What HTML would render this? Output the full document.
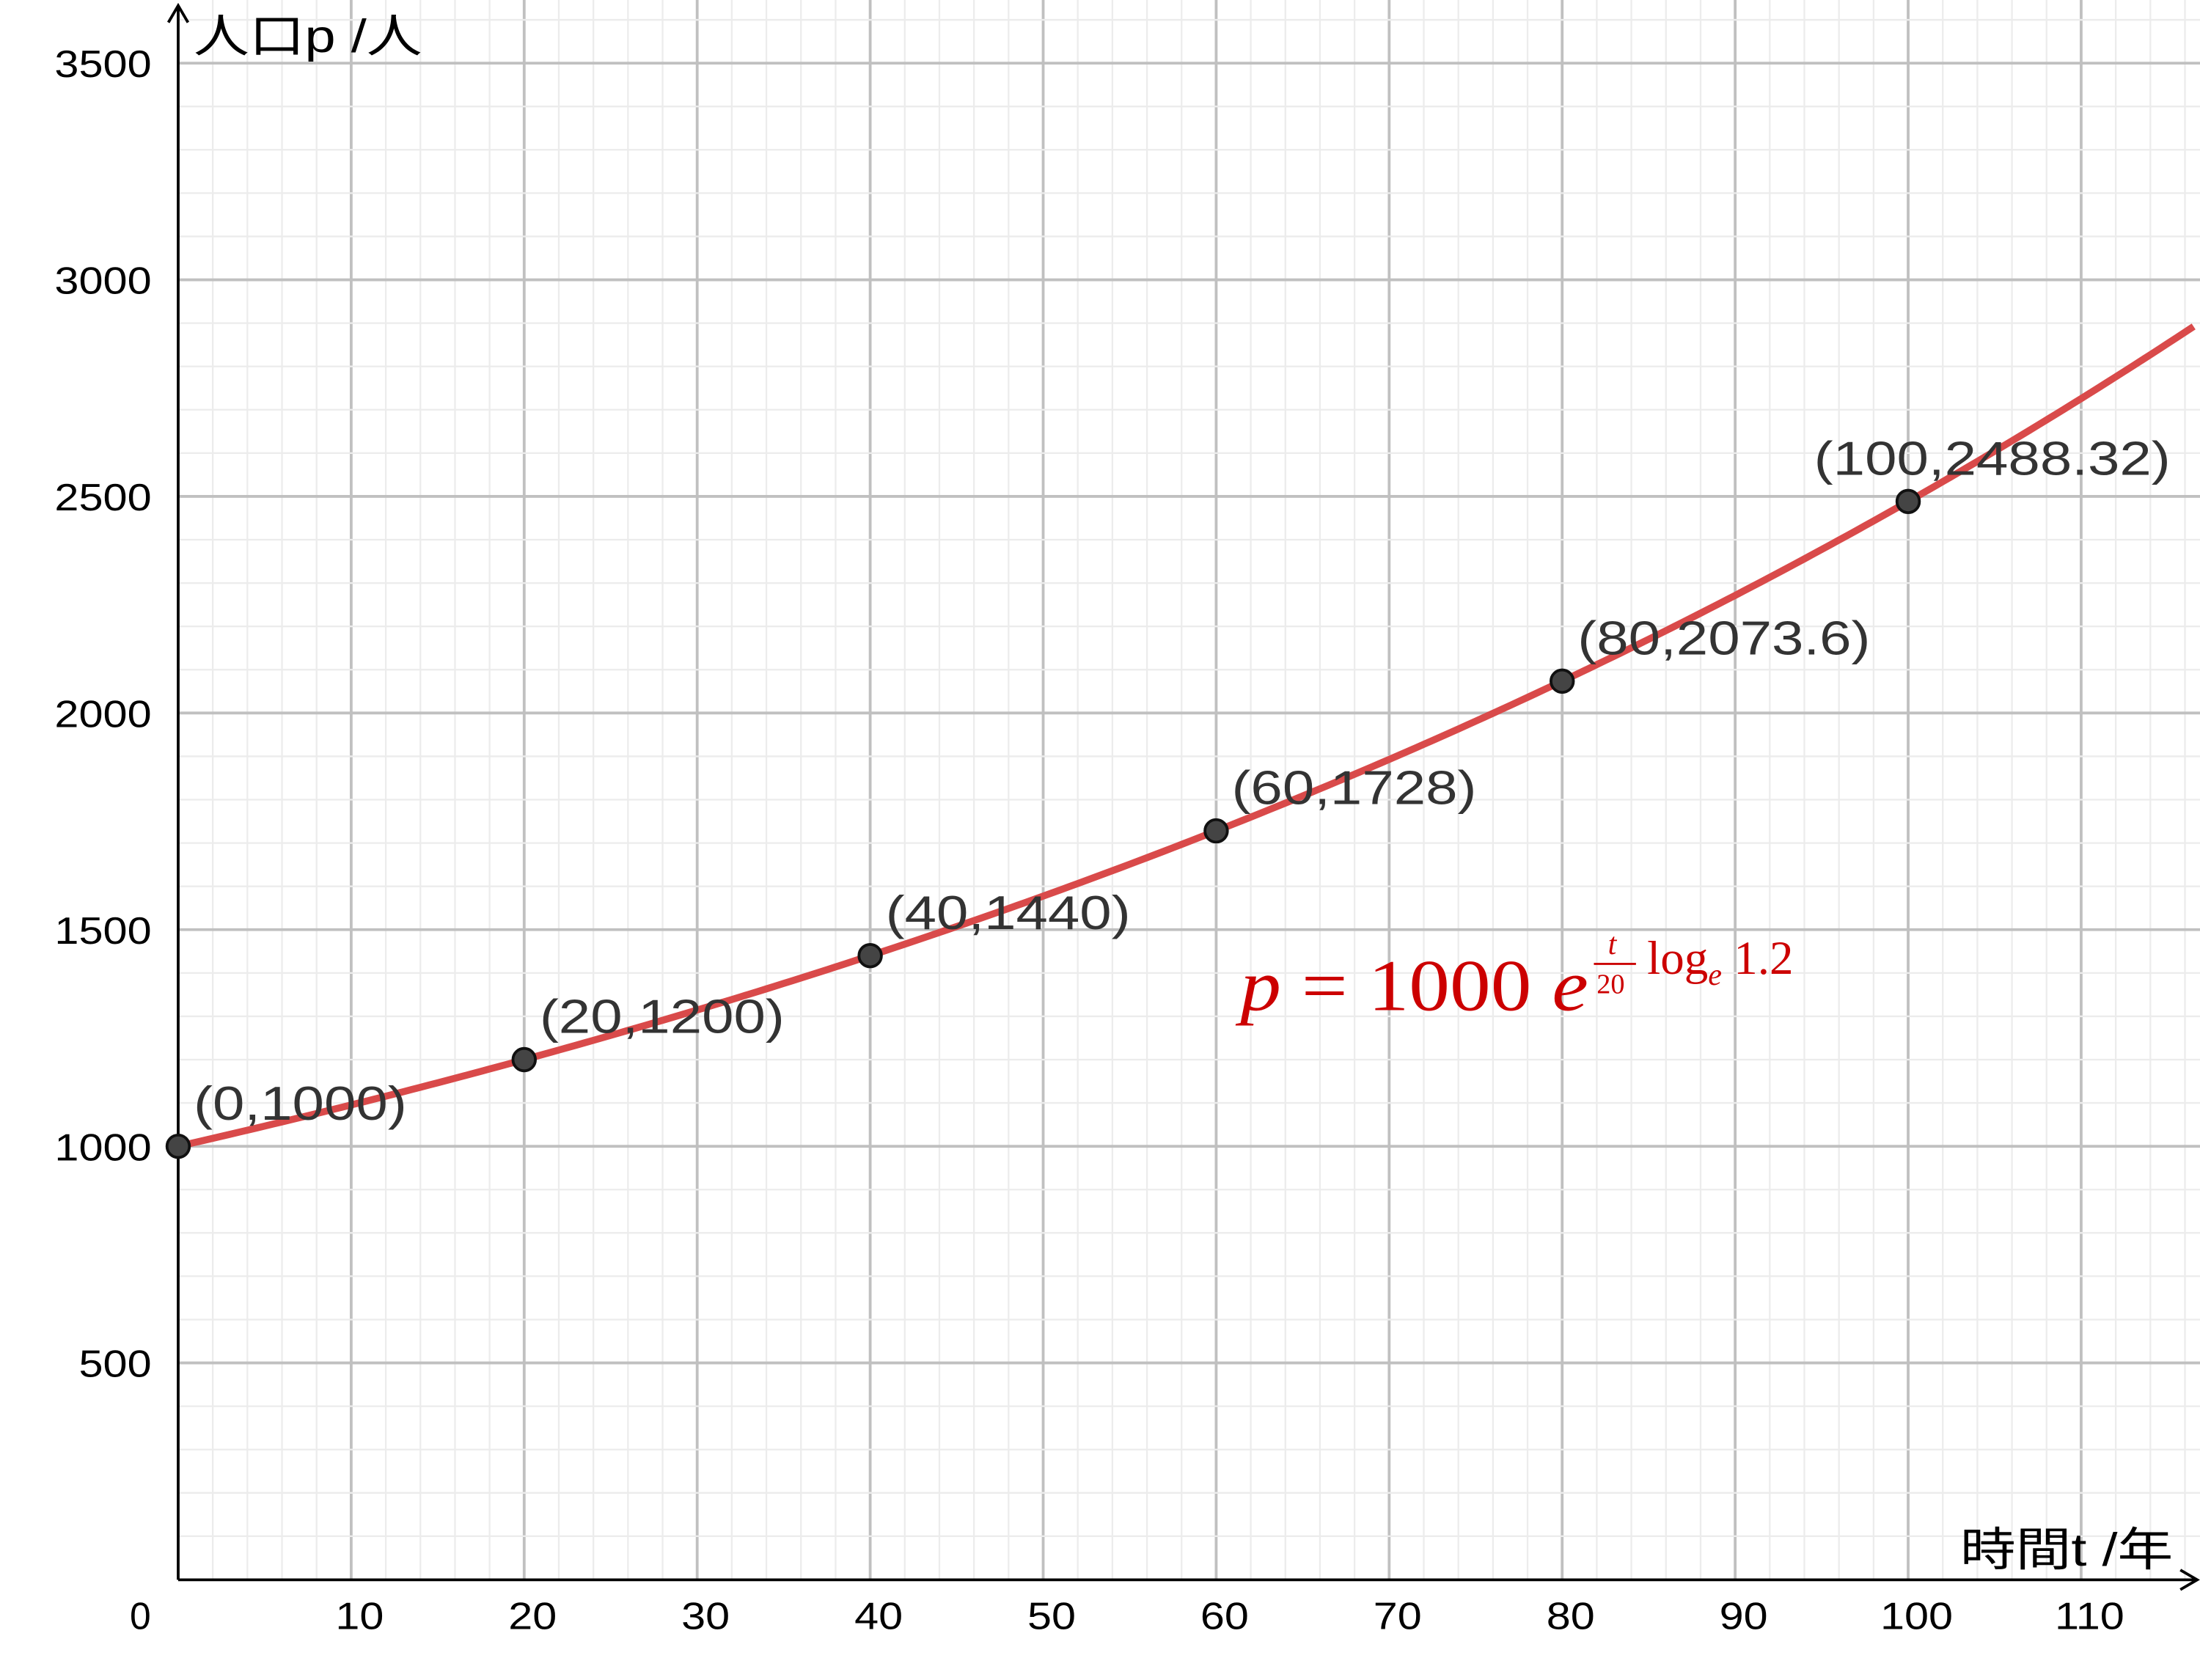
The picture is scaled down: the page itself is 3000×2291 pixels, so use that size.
<!DOCTYPE html>
<html><head><meta charset="utf-8"><style>
html,body{margin:0;padding:0;background:#fff}
svg{display:block}
.s{font-family:"Liberation Sans","Noto Sans CJK JP",sans-serif}
.f{font-family:"Liberation Serif","DejaVu Serif",serif}
</style></head><body>
<svg id="chart" width="3000" height="2291" viewBox="0 0 1568 1197.4" xmlns="http://www.w3.org/2000/svg">
<g id="grid"></g>
<g id="axes"></g>
<g id="curve"></g>
<g id="pts"></g>
<text class="f" x="884" y="720" fill="#cc0000" font-size="52" textLength="248" lengthAdjust="spacingAndGlyphs"><tspan font-style="italic">p</tspan> = 1000 <tspan font-style="italic">e</tspan></text>
<text class="f" x="1146" y="680" fill="#cc0000" font-size="22" font-style="italic">t</text>
<line x1="1136" y1="687" x2="1166" y2="687" stroke="#cc0000" stroke-width="1.5"/>
<text class="f" x="1138" y="708" fill="#cc0000" font-size="20">20</text>
<text class="f" x="1174" y="694" fill="#cc0000" font-size="34">log<tspan font-size="22" font-style="italic" dy="8">e</tspan><tspan dy="-8"> 1.2</tspan></text>
</svg>
<script>
const xTicks=[10,20,30,40,50,60,70,80,90,100,110];
const yTicks=[500,1000,1500,2000,2500,3000,3500];
const pointT=[0,20,40,60,80,100];
const pointP=[1000,1200,1440,1728,2073.6,2488.32];
const pointLabels=["(0,1000)","(20,1200)","(40,1440)","(60,1728)","(80,2073.6)","(100,2488.32)"];
const basePop=1000, growth=1.2, period=20;
const X=t=>127+t*12.33, Y=p=>1125.8-p*0.3088;
const NS="http://www.w3.org/2000/svg";
function mk(tag,attrs,parent){const e=document.createElementNS(NS,tag);for(const k in attrs)e.setAttribute(k,attrs[k]);parent.appendChild(e);return e;}
function widen(tx,f){const w=tx.getComputedTextLength();tx.setAttribute('textLength',(w*f).toFixed(1));tx.setAttribute('lengthAdjust','spacingAndGlyphs');}
const g=document.getElementById('grid');
for(let t=2;t<=118;t+=2){const major=t%10===0;
 const l=mk('line',{x1:X(t),y1:0,x2:X(t),y2:1126,stroke:major?'#c0c0c0':'#ececec','stroke-width':major?2:1.2},g);
 
 }
for(let p=100;p<=3800;p+=100){const major=p%500===0;
 const l=mk('line',{x1:127,y1:Y(p),x2:1568,y2:Y(p),stroke:major?'#c0c0c0':'#ececec','stroke-width':major?2:1.2},g);
 
 }
const a=document.getElementById('axes');
let e=mk('path',{d:'M127,1126H1566M1554,1119L1566,1126L1554,1133',stroke:'#000','stroke-width':2,fill:'none'},a);


e=mk('path',{d:'M127,1126V4M120,16L127,4L134,16',stroke:'#000','stroke-width':2,fill:'none'},a);


xTicks.forEach(t=>{const tx=mk('text',{class:'s',x:X(t)+6,y:1161,'font-size':27,'text-anchor':'middle'},a);tx.textContent=t;widen(tx,1.15);
 
 });
yTicks.forEach(p=>{const tx=mk('text',{class:'s',x:108,y:Y(p)+10,'font-size':27,'text-anchor':'end'},a);tx.textContent=p;widen(tx,1.15);
 
 });
e=mk('text',{class:'s',x:100,y:1161,'font-size':27,'text-anchor':'middle'},a);e.textContent='0';


e=mk('text',{class:'s',x:138,y:37,'font-size':33},a);e.textContent='人口p /人';widen(e,1.2);


e=mk('text',{class:'s',x:1397,y:1116,'font-size':33},a);e.textContent='時間t /年';widen(e,1.2);


let d='';for(let t=0;t<=116.9;t+=0.5){d+=(t?'L':'M')+X(t).toFixed(2)+','+Y(basePop*Math.pow(growth,t/period)).toFixed(2);}
e=mk('path',{d:d,stroke:'#d94a4a','stroke-width':5,fill:'none'},document.getElementById('curve'));


const pg=document.getElementById('pts');
pointT.forEach((t,i)=>{
 const c=mk('circle',{cx:X(t),cy:Y(pointP[i]),r:8,fill:'#444',stroke:'#111','stroke-width':2},pg);
 
 
 const tx=mk('text',{class:'s',x:X(t)+11,y:Y(pointP[i])-19,'font-size':34,fill:'#333'},pg);tx.textContent=pointLabels[i];widen(tx,1.2);
 const w=parseFloat(tx.getAttribute('textLength'));
 if(X(t)+11+w>1560){tx.setAttribute('x',(1547-w).toFixed(1));}
 
 
});
</script>
</body></html>
